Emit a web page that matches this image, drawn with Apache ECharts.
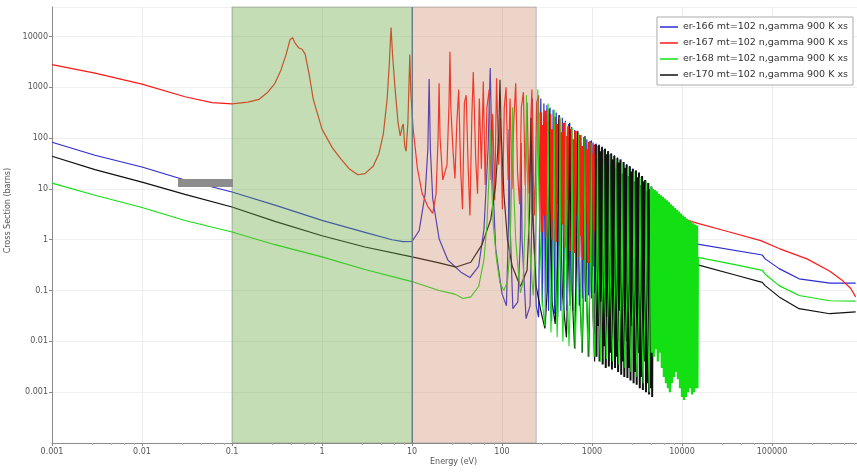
<!DOCTYPE html>
<html>
<head>
<meta charset="utf-8">
<script src="https://cdn.jsdelivr.net/npm/echarts@6/dist/echarts.min.js"></script>
<style>
  html, body { margin: 0; padding: 0; background: #fff; }
  #chart { width: 857px; height: 472px; }
</style>
</head>
<body>
<div id="chart"></div>
<script>
// legend names
const seriesNames = [
  "er-166 mt=102 n,gamma 900 K xs",
  "er-167 mt=102 n,gamma 900 K xs",
  "er-168 mt=102 n,gamma 900 K xs",
  "er-170 mt=102 n,gamma 900 K xs"
];

// shaded energy ranges (eV)
const thermalRange = [0.1, 10];
const resonanceRange = [10, 240];

// [energy eV, cross section barns]
const er166 = [
  [0.001, 83], [0.003, 46], [0.01, 27], [0.03, 15], [0.1, 8.7], [0.3, 4.8], [1, 2.4], [3, 1.4],
  [6, 1.0], [8, 0.92], [10, 0.93], [12, 1.5], [14, 8], [15, 60], [15.5, 1450], [16, 60], [17, 6.4],
  [20, 1.05], [25, 0.4], [35, 0.23], [44, 0.18], [55, 0.3], [63, 1.6], [70, 60], [74, 2400], [78, 25],
  [85, 0.67], [100, 0.087], [112, 0.05], [118, 2], [120, 150], [123, 2], [132, 0.044], [150, 0.06],
  [160, 1], [163, 80], [167, 1], [185, 0.028], [205, 0.05], [215, 3], [218, 600], [222, 3], [240, 0.05],
  [255, 0.03],
  [270, 600], [281, 0.05], [292, 480], [304, 0.03], [316, 450], [329, 0.04], [342, 400], [356, 0.025],
  [370, 360], [385, 0.035], [400, 320], [416, 0.03], [433, 280], [450, 0.04], [468, 250], [487, 0.03],
  [506, 220], [527, 0.04], [548, 190], [570, 0.05], [593, 165], [616, 0.04], [641, 145], [667, 0.06],
  [693, 130], [721, 0.05], [750, 115], [780, 0.07], [811, 105], [844, 0.06], [877, 95], [912, 0.08],
  [949, 88], [987, 0.07], [1026, 82], [1067, 0.09], [1110, 78], [1154, 0.08], [1201, 75], [1249, 0.1],
  [1299, 68], [1351, 0.09], [1405, 62], [1461, 0.12], [1519, 56], [1580, 0.1], [1643, 50], [1709, 0.15],
  [1777, 46], [1848, 0.12], [1922, 42], [1999, 0.2], [2079, 38], [2162, 0.18], [2249, 34], [2339, 0.25],
  [2432, 31], [2530, 0.3], [2631, 28], [2736, 0.3], [2846, 25], [2959, 0.4], [3078, 23], [3201, 0.45],
  [3329, 20], [3462, 0.5], [3600, 18], [3744, 0.6], [3894, 15], [4050, 0.7], [4212, 13], [4380, 0.8],
  [4555, 11], [4800, 0.95],
  [12300, 0.87], [78000, 0.5], [84000, 0.42], [120000, 0.27], [200000, 0.17], [440000, 0.14], [850000, 0.14]
];

const er167Low = [
  [0.001, 2800], [0.003, 1900], [0.01, 1150], [0.03, 650], [0.06, 500], [0.1, 470], [0.15, 510],
  [0.2, 580], [0.25, 800], [0.3, 1200], [0.35, 2200], [0.4, 4500], [0.44, 8500], [0.47, 9500],
  [0.5, 7500], [0.55, 6000], [0.6, 5600], [0.65, 4500], [0.72, 1800], [0.8, 580], [1.0, 150],
  [1.3, 65], [1.6, 40], [2.0, 25], [2.5, 19], [3.0, 20], [3.7, 28], [4.3, 50], [4.8, 120], [5.3, 600],
  [5.6, 3000], [5.85, 15000], [6.1, 4000], [6.5, 900], [7.0, 200], [7.4, 110], [7.8, 170], [8.0, 190],
  [8.3, 70], [8.6, 55], [9.0, 200], [9.3, 1500], [9.45, 4400], [9.7, 800], [10.3, 150], [11.5, 25],
  [13, 8], [15, 4.5], [17, 3.3], [18.5, 8], [19.5, 100], [20, 1200], [20.5, 100], [22, 15], [24.5, 30],
  [25.8, 500], [26.4, 5000], [27, 400],
  [28.5, 60], [30, 16], [31.5, 200], [33, 900], [34.7, 25], [36.4, 4], [38.2, 500], [40, 700], [42, 30],
  [44, 3], [46.3, 300], [48, 2000], [51, 40], [53.5, 8], [56, 600], [59, 25], [62, 1300], [65, 12],
  [68, 400], [72, 900], [75.5, 15], [79, 300], [83, 6], [87, 1500], [92, 30], [96, 250], [101, 4],
  [106, 400], [111, 1000], [117, 15], [123, 600], [129, 10], [135, 200], [142, 1200], [149, 20], [157, 5],
  [164, 400], [173, 800], [181, 12], [190, 500], [200, 8], [210, 300], [215, 900], [222, 20], [231, 3],
  [243, 500], [255, 700], [262, 2], [270, 320]
];

const er167Dense = [
  [270, 320], [278, 1.4], [286, 180], [295, 3], [304, 350], [313, 1.1], [322, 210], [332, 8], [342, 300],
  [352, 1.0], [363, 150], [374, 2.5], [385, 260], [396, 0.9], [408, 190], [420, 5], [433, 240], [446, 0.8],
  [459, 130], [473, 2], [487, 200], [502, 0.7], [517, 110], [532, 6], [548, 170], [565, 0.6], [582, 150],
  [599, 1.5], [617, 95], [636, 0.55], [655, 140], [674, 3], [695, 80], [715, 0.45], [737, 115], [759, 1.2],
  [782, 70], [805, 0.4], [829, 100], [854, 2], [880, 60], [906, 0.35], [933, 85], [961, 1], [990, 50],
  [1020, 0.3], [1050, 75], [1082, 1.5], [1114, 45], [1148, 0.27], [1182, 62], [1218, 0.8], [1254, 40],
  [1292, 0.24], [1330, 52], [1370, 1], [1411, 34], [1454, 0.22], [1497, 44], [1542, 0.6], [1588, 30],
  [1636, 0.2], [1685, 38], [1736, 0.8], [1788, 26], [1841, 0.18], [1897, 32], [1953, 1.5], [2012, 6]
];

const er167Tail = [
  [2012, 6], [5000, 3.7], [10000, 2.6], [15000, 2.1], [30000, 1.5], [75000, 0.96], [120000, 0.67],
  [245000, 0.42], [440000, 0.24], [600000, 0.16], [750000, 0.11], [850000, 0.075]
];

const er168Low = [
  [0.001, 13], [0.003, 7.5], [0.01, 4.3], [0.03, 2.4], [0.1, 1.42], [0.3, 0.8], [1, 0.46], [3, 0.26],
  [10, 0.15], [20, 0.1], [30, 0.085], [37, 0.07], [45, 0.075], [55, 0.12], [63, 0.4], [68, 2], [72, 20],
  [74, 150], [76, 20], [80, 2], [87, 0.4], [95, 0.14], [105, 0.1], [115, 0.15], [123, 0.7], [128, 15],
  [131, 400], [134, 15], [142, 1], [150, 0.3], [160, 0.09], [172, 0.15], [180, 2], [184, 40], [187, 700],
  [190, 40], [197, 2], [210, 0.3], [222, 0.08], [235, 0.6], [245, 20], [250, 900], [255, 20], [265, 1],
  [280, 0.06], [300, 0.02], [318, 2], [325, 480], [332, 2], [350, 0.015], [372, 1], [380, 360], [388, 1],
  [410, 0.012], [432, 0.5], [440, 260], [448, 0.5], [475, 0.01], [500, 0.4], [510, 210], [520, 0.4],
  [555, 0.008], [590, 0.3], [600, 160], [612, 0.3], [650, 0.007], [695, 0.5], [710, 125], [725, 0.5],
  [770, 0.006], [820, 0.4], [835, 100], [850, 0.4], [900, 0.005], [960, 0.3], [980, 82], [1000, 0.3],
  [1060, 0.005], [1130, 0.3], [1150, 70], [1170, 0.3], [1240, 0.004], [1320, 0.2], [1345, 58], [1370, 0.2],
  [1450, 0.0045], [1540, 0.2], [1570, 48], [1600, 0.2], [1700, 0.004], [1800, 0.2], [1840, 40], [1880, 0.2],
  [1990, 0.0035], [2110, 0.15], [2150, 33], [2190, 0.15], [2320, 0.003], [2460, 0.15], [2510, 27],
  [2560, 0.15], [2710, 0.0025], [2870, 0.1], [2930, 22], [2990, 0.1], [3160, 0.002], [3350, 0.1],
  [3420, 17], [3490, 0.1], [3700, 0.0015], [3920, 0.1], [4000, 14], [4080, 0.1], [4330, 0.001], [4500, 11]
];

const er168Dense = [
  [4500, 11], [4620, 0.006], [4740, 10], [4860, 0.005], [4990, 9.5], [5120, 0.007], [5250, 9],
  [5390, 0.004], [5530, 8], [5670, 0.006], [5820, 7.5], [5970, 0.003], [6130, 7], [6290, 0.002],
  [6450, 6.5], [6620, 0.0015], [6790, 6], [6970, 0.0012], [7150, 5.5], [7340, 0.001], [7530, 5],
  [7730, 0.0015], [7930, 4.6], [8140, 0.002], [8350, 4.2], [8570, 0.0025], [8790, 3.9], [9020, 0.0018],
  [9260, 3.6], [9500, 0.0012], [9750, 3.3], [10000, 0.0008], [10260, 3.0], [10530, 0.0007], [10800, 2.8],
  [11080, 0.0008], [11370, 2.6], [11670, 0.001], [11970, 2.4], [12280, 0.0012], [12600, 2.3],
  [12930, 0.0009], [13270, 2.1], [13610, 0.001], [13970, 2.0], [14330, 0.0012], [14700, 1.9],
  [14850, 0.0012], [15000, 0.45]
];

const er168Tail = [
  [15000, 0.45], [40000, 0.32], [78000, 0.25], [84000, 0.21], [120000, 0.125], [200000, 0.08],
  [440000, 0.063], [850000, 0.062]
];

const er170Low = [
  [0.001, 44], [0.003, 24], [0.01, 13.6], [0.03, 7.8], [0.1, 4.4], [0.3, 2.3], [1, 1.2], [3, 0.72],
  [10, 0.46], [20, 0.35], [31, 0.29], [45, 0.36], [60, 0.8], [75, 2.5], [85, 12], [92, 120], [95, 1400],
  [98, 120], [105, 8], [115, 1], [130, 0.3], [160, 0.12], [190, 0.25], [203, 4], [210, 250], [217, 4],
  [240, 0.12], [270, 0.04], [300, 0.018], [318, 0.1], [328, 5], [333, 380], [338, 5], [360, 0.06],
  [390, 0.022], [412, 0.3], [425, 12], [430, 280], [436, 10], [470, 0.08], [520, 0.012], [545, 0.3],
  [560, 20], [565, 200], [571, 15], [600, 0.1], [640, 0.0073], [670, 0.3], [690, 15], [695, 140],
  [702, 10], [740, 0.05], [780, 0.006], [810, 0.2], [830, 10], [836, 110], [843, 8], [880, 0.04],
  [920, 0.005], [950, 0.3], [975, 12], [982, 90], [990, 6], [1030, 0.03], [1070, 0.004], [1100, 75]
];

const er170Dense = [
  [1100, 75], [1122, 0.005], [1144, 40], [1167, 0.02], [1190, 72], [1214, 0.004], [1238, 55], [1263, 0.06],
  [1288, 66], [1314, 0.0035], [1340, 35], [1367, 0.008], [1394, 62], [1422, 0.003], [1450, 48], [1479, 0.03],
  [1509, 55], [1539, 0.0032], [1570, 30], [1601, 0.006], [1633, 50], [1666, 0.0028], [1699, 38], [1733, 0.015],
  [1768, 45], [1803, 0.003], [1839, 25], [1876, 0.005], [1913, 40], [1951, 0.0025], [1990, 33], [2030, 0.04],
  [2071, 38], [2112, 0.0022], [2154, 20], [2197, 0.004], [2241, 34], [2286, 0.002], [2332, 26], [2379, 0.01],
  [2426, 30], [2475, 0.0019], [2524, 18], [2575, 0.003], [2626, 28], [2679, 0.0017], [2732, 22], [2787, 0.02],
  [2842, 25], [2899, 0.0015], [2957, 14], [3016, 0.0025], [3077, 23], [3138, 0.0014], [3201, 17], [3265, 0.006],
  [3330, 21], [3397, 0.0012], [3465, 12], [3534, 0.002], [3605, 18], [3677, 0.0011], [3750, 14], [3825, 0.004],
  [3902, 15], [3980, 0.001], [4059, 9], [4141, 0.0015], [4223, 13], [4308, 0.0009], [4394, 10], [4482, 0.0012],
  [4572, 11], [4663, 0.0008], [4750, 10], [4800, 0.67]
];

const er170Tail = [
  [4800, 0.67], [15000, 0.32], [40000, 0.2], [78000, 0.145], [84000, 0.125], [120000, 0.075],
  [200000, 0.044], [440000, 0.035], [850000, 0.038]
];

const seriesColors = ["#2b2bd6", "#ff1a1a", "#12e012", "#111111"];
const FONT = "DejaVu Sans";

function logLabel(v) {
  const e = Math.round(Math.log10(v));
  return e < 0 ? v.toFixed(-e) : String(Math.round(v));
}

// one isotope may be split into several pieces, all under one legend entry
function piece(idx, data, width, z) {
  return {
    name: seriesNames[idx],
    type: "line",
    data: data,
    showSymbol: false,
    symbol: "none",
    sampling: null,
    animation: false,
    z: z,
    lineStyle: { color: seriesColors[idx], width: width },
    itemStyle: { color: seriesColors[idx] }
  };
}

const chart = echarts.init(document.getElementById("chart"));

const series = [
  piece(0, er166, 1.2, 2),
  piece(1, er167Low, 1.2, 3),
  piece(1, er167Dense, 2.6, 3),
  piece(1, er167Tail, 1.2, 3),
  piece(2, er168Low, 1.1, 5),
  piece(2, er168Dense, 2.2, 5),
  piece(2, er168Tail, 1.2, 5),
  piece(3, er170Low, 1.2, 4),
  piece(3, er170Dense, 2, 4),
  piece(3, er170Tail, 1.2, 4)
];

// overlay for the shaded ranges, drawn over the curves
series.push({
  name: "ranges",
  type: "line",
  data: [],
  z: 10,
  silent: true,
  animation: false,
  markArea: {
    silent: true,
    z: 10,
    data: [
      [{ xAxis: thermalRange[0], itemStyle: { color: "rgba(110,170,70,0.4)" } }, { xAxis: thermalRange[1] }],
      [{ xAxis: resonanceRange[0], itemStyle: { color: "rgba(195,125,85,0.32)" } }, { xAxis: resonanceRange[1] }]
    ],
    itemStyle: { borderColor: "rgba(120,120,120,0.45)", borderWidth: 1 }
  },
  markLine: {
    silent: true,
    symbol: "none",
    z: 11,
    label: { show: false },
    lineStyle: { color: "#6a7888", width: 1, type: "solid" },
    data: [{ xAxis: resonanceRange[0] }]
  }
});

const option = {
  animation: false,
  backgroundColor: "#fff",
  textStyle: { fontFamily: FONT },
  grid: { left: 52, right: 0, top: 7, bottom: 29 },
  legend: {
    data: seriesNames,
    orient: "vertical",
    right: 4,
    top: 17,
    icon: "rect",
    itemWidth: 18,
    itemHeight: 1.5,
    itemGap: 4,
    padding: [4, 5, 4, 3],
    borderColor: "#aaaaaa",
    borderWidth: 1,
    backgroundColor: "#fff",
    textStyle: { fontSize: 9.5, color: "#333", fontFamily: FONT, lineHeight: 12 }
  },
  xAxis: {
    type: "log",
    logBase: 10,
    min: 0.001,
    max: 880000,
    axisLine: { lineStyle: { color: "#8a8a8a" } },
    axisTick: { show: true, length: 3, lineStyle: { color: "#8a8a8a" } },
    minorTick: { show: true, splitNumber: 5, length: 2, lineStyle: { color: "#b0b0b0" } },
    axisLabel: {
      fontSize: 8, color: "#555", margin: 5, fontFamily: FONT,
      showMaxLabel: false, formatter: logLabel
    },
    splitLine: { show: true, lineStyle: { color: "#ececec" } }
  },
  yAxis: {
    type: "log",
    logBase: 10,
    min: 0.0001,
    max: 38000,
    axisLine: { show: true, lineStyle: { color: "#8a8a8a" } },
    axisTick: { show: true, length: 3, lineStyle: { color: "#8a8a8a" } },
    axisLabel: {
      fontSize: 8, color: "#555", margin: 4, fontFamily: FONT,
      showMinLabel: false, showMaxLabel: false, formatter: logLabel
    },
    splitLine: { show: true, lineStyle: { color: "#f0f0f0" } }
  },
  graphic: [
    {
      type: "text",
      left: 4,
      top: 168,
      rotation: Math.PI / 2,
      style: { text: "Cross Section (barns)", fontSize: 8, fill: "#555", fontFamily: FONT }
    },
    {
      type: "text",
      left: 430,
      top: 458,
      style: { text: "Energy (eV)", fontSize: 8, fill: "#555", fontFamily: FONT }
    },
    {
      type: "rect",
      left: 178,
      top: 179,
      shape: { width: 55, height: 8 },
      style: { fill: "#8c8c8c" },
      z: 20
    }
  ],
  series: series
};

chart.setOption(option);
</script>
</body>
</html>
